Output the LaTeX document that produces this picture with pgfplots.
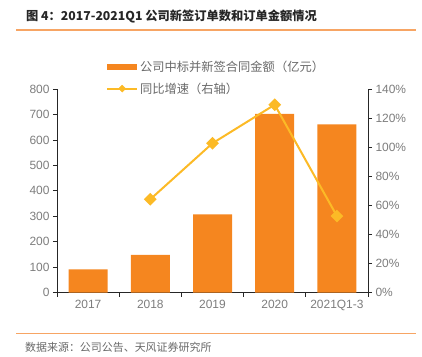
\documentclass[border=0pt]{standalone}
\usepackage{pgfplots}
\pgfplotsset{compat=1.18}
\usepackage{fontspec}
\setmainfont{Liberation Sans}
\newfontfamily\cjk{Noto Sans CJK SC}
\definecolor{barc}{RGB}{245,134,31}
\definecolor{linec}{RGB}{252,186,38}
\definecolor{txt}{RGB}{105,105,105}
\definecolor{tk}{RGB}{125,125,125}
\definecolor{sepcol}{RGB}{247,165,100}
\begin{document}
\begin{tikzpicture}[x=1bp,y=1bp]
\path[use as bounding box] (0,0) rectangle (422,357);
\node[anchor=west, inner sep=0, font=\cjk\bfseries\fontsize{12.3}{14}\selectfont, text=black!85] at (26,341) {图 4：2017-2021Q1 公司新签订单数和订单金额情况};
\draw[draw=sepcol, line width=1.2bp] (16,327) -- (416,327);
\draw[draw=sepcol, line width=1.2bp] (16,23.7) -- (416,23.7);
\node[anchor=west, inner sep=0, font=\cjk\fontsize{11}{13}\selectfont, text=txt] at (25,9.7) {数据来源：公司公告、天风证券研究所};
\pgfplotsset{
  common/.style={
    at={(57bp,64.3bp)}, anchor=south west,
    scale only axis, width=311bp, height=203.7bp,
    xmin=-0.5, xmax=4.5,
    tick align=outside,
    major tick length=4bp, minor tick length=4bp,
    axis line style={black!85, line width=0.8bp},
    every tick/.style={black!85, line width=0.8bp},
    ticklabel style={font=\fontsize{12}{14}\selectfont, text=tk},
    /pgf/number format/assume math mode=true,
  }
}
\begin{axis}[common,
  ymin=0, ymax=800, ytick={0,100,...,800},
  xtick={0,1,2,3,4}, xticklabels={2017,2018,2019,2020,2021Q1-3},
  major x tick style={draw=none},
  minor xtick={-0.5,0.5,1.5,2.5,3.5,4.5},
  axis x line*=bottom, axis y line*=left,
  legend style={at={(0.148,1.16)}, anchor=north west, draw=none, fill=none,
    font=\cjk\fontsize{12.3}{14}\selectfont, text=txt, row sep=6bp,
    /tikz/every even column/.append style={column sep=2bp}},
  legend cell align=left,
]
\addplot[ybar, bar width=39bp, fill=barc, draw=none,
  legend image code/.code={\fill[barc] (0bp,-3bp) rectangle (30bp,3bp);}]
  coordinates {(0,92) (1,149) (2,308) (3,702) (4,661)};
\addlegendentry{公司中标并新签合同金额（亿元）}
\addlegendimage{legend image code/.code={\draw[linec, line width=2bp] (0bp,0bp)--(30bp,0bp); \fill[linec] (15bp,-3.5bp)--(18.5bp,0bp)--(15bp,3.5bp)--(11.5bp,0bp)--cycle;}}
\addlegendentry{同比增速（右轴）}
\end{axis}
\begin{axis}[common,
  ymin=0, ymax=140, ytick={0,20,...,140},
  yticklabel={\pgfmathprintnumber{\tick}\%},
  axis y line*=right, axis x line=none,
]
\addplot[linec, line width=2bp, mark=square*, mark size=3.5bp, mark options={fill=linec, rotate=45}]
  coordinates {(1,64.2) (2,102.7) (3,129.2) (4,52.7)};
\end{axis}
\end{tikzpicture}
\end{document}
